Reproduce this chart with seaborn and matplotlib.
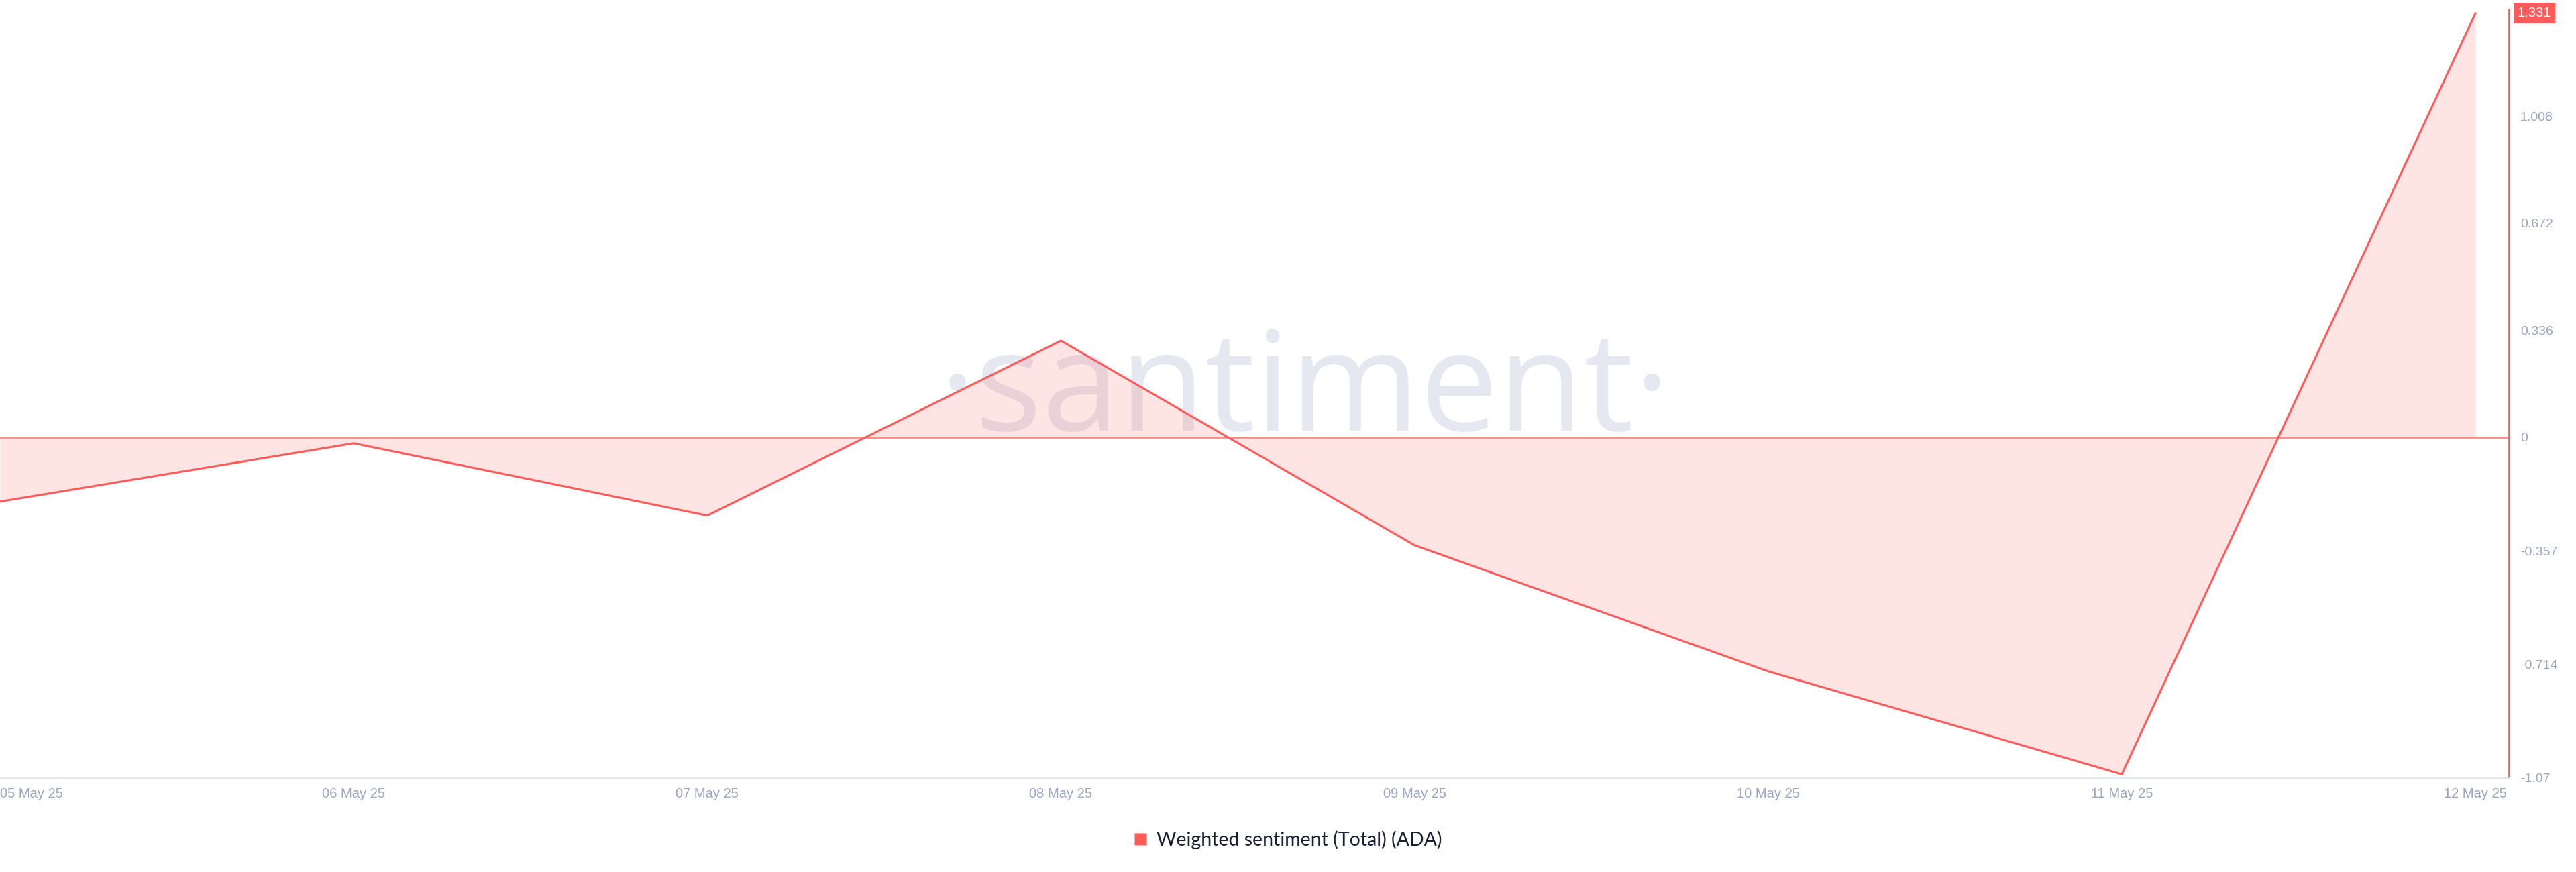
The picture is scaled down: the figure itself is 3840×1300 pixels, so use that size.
import pandas as pd
import matplotlib
matplotlib.use("Agg")
import matplotlib.pyplot as plt
import seaborn as sns
from matplotlib.lines import Line2D

dates = ['05 May 25', '06 May 25', '07 May 25', '08 May 25',
         '09 May 25', '10 May 25', '11 May 25', '12 May 25']
sentiment = [-0.202, -0.019, -0.246, 0.303, -0.339, -0.735, -1.058, 1.331]
y_ticks = [1.008, 0.672, 0.336, 0, -0.357, -0.714, -1.07]
y_tick_labels = ['1.008', '0.672', '0.336', '0', '-0.357', '-0.714', '-1.07']
series_name = 'Weighted sentiment (Total) (ADA)'

LINE = '#ff5b5b'
TICK = '#9aa5c0'

df = pd.DataFrame({'day': range(len(dates)), 'value': sentiment})

sns.set_style('white')
plt.rcParams['font.family'] = ['Liberation Sans', 'DejaVu Sans']

fig = plt.figure(figsize=(38.4, 13), dpi=100)
ax = fig.add_axes([0, 0.1077, 0.974, 0.8815])

# watermark behind everything
ax.text(0.52, 0.452, '·santiment·', transform=ax.transAxes, ha='center', va='baseline',
        fontsize=150, color='#e6e8f1', family='Open Sans', zorder=0)

ax.fill_between(df['day'], df['value'], 0, color=LINE, alpha=0.16, linewidth=0, zorder=1)
ax.axhline(0, color='#ff8a8a', lw=2, zorder=2)
sns.lineplot(data=df, x='day', y='value', color=LINE, linewidth=2.2, ax=ax, zorder=3)

ax.set_xlim(0, 7.095)
ax.set_ylim(-1.07, 1.343)
ax.set_xlabel('')
ax.set_ylabel('')

ax.set_xticks(df['day'])
ax.set_xticklabels(dates, fontsize=14.5, color=TICK)
ax.get_xticklabels()[0].set_horizontalalignment('left')
ax.tick_params(axis='x', length=0, pad=10)

ax.yaxis.tick_right()
ax.set_yticks(y_ticks)
ax.set_yticklabels(y_tick_labels, fontsize=14, color=TICK)
ax.tick_params(axis='y', length=0, pad=12)

for side in ['top', 'left']:
    ax.spines[side].set_visible(False)
ax.spines['right'].set_color(LINE)
ax.spines['right'].set_linewidth(2)
ax.spines['bottom'].set_color('#e3e7f0')
ax.spines['bottom'].set_linewidth(2)

# last value badge
ax.annotate(f'{sentiment[-1]:.3f}', xy=(1, sentiment[-1]), xycoords=('axes fraction', 'data'),
            xytext=(9, 0), textcoords='offset points', ha='left', va='center',
            fontsize=14.5, color='white',
            bbox=dict(boxstyle='square,pad=0.3', fc=LINE, ec='none'), annotation_clip=False)

legend_elements = [Line2D([0], [0], marker='s', color='none', markerfacecolor=LINE,
                          markeredgecolor='none', markersize=13, label=series_name)]
fig.legend(handles=legend_elements, loc='center', bbox_to_anchor=(0.5, 0.037), frameon=False,
           handlelength=0.7, handletextpad=0.5,
           prop={'family': ['Lato', 'DejaVu Sans'], 'size': 20.5}, labelcolor='#1a1f36')

fig.savefig('out.png', dpi=100)
